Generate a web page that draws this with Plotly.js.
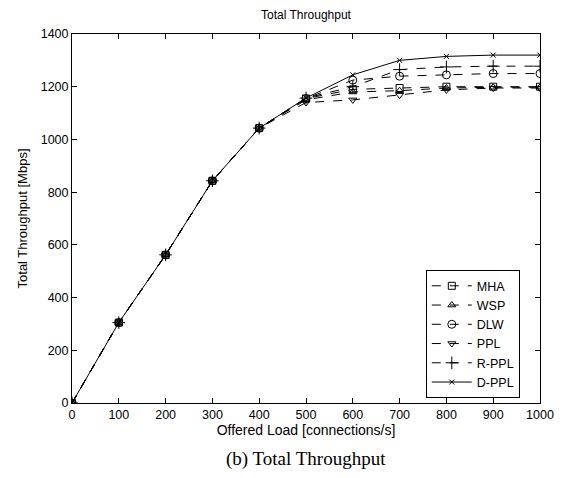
<!DOCTYPE html>
<html>
<head>
<meta charset="utf-8">
<script src="https://cdn.plot.ly/plotly-3.0.1.min.js"></script>
<style>
html,body{margin:0;padding:0;background:#fff;}
#chart{width:563px;height:478px;}
</style>
</head>
<body>
<div id="chart"></div>
<script>
const load = [0, 100, 200, 300, 400, 500, 600, 700, 800, 900, 1000];
const seriesNames = ["MHA", "WSP", "DLW", "PPL", "R-PPL", "D-PPL"];
const MHA   = [0, 305, 562, 843, 1043, 1155, 1190, 1195, 1200, 1200, 1200];
const WSP   = [0, 305, 562, 843, 1043, 1150, 1180, 1185, 1195, 1198, 1198];
const DLW   = [0, 305, 562, 843, 1043, 1155, 1225, 1240, 1245, 1250, 1250];
const PPL   = [0, 305, 562, 843, 1043, 1140, 1150, 1168, 1188, 1195, 1195];
const RPPL  = [0, 305, 562, 843, 1043, 1157, 1200, 1265, 1275, 1278, 1278];
const DPPL  = [0, 305, 562, 843, 1043, 1157, 1245, 1300, 1315, 1320, 1320];
const xTicks = [0, 100, 200, 300, 400, 500, 600, 700, 800, 900, 1000];
const yTicks = [0, 200, 400, 600, 800, 1000, 1200, 1400];

const values = [MHA, WSP, DLW, PPL, RPPL, DPPL];
const symbols = ["square-open", "triangle-up-open", "circle-open", "triangle-down-open", "cross-thin", "x-thin"];
const sizes = [7, 7, 8, 7, 9, 5];
const dashes = ["dash", "dash", "dash", "dash", "dash", "solid"];

const traces = seriesNames.map((n, i) => ({
  x: load, y: values[i], name: n, type: "scatter", mode: "lines+markers",
  line: {color: "#000", width: 1, dash: dashes[i]},
  marker: {symbol: symbols[i], size: sizes[i], color: "#000", line: {color: "#000", width: 1}}
}));

const axisCommon = {
  showgrid: false, zeroline: false, showline: true, linecolor: "#000", linewidth: 1,
  mirror: "ticks", ticks: "inside", ticklen: 5, tickcolor: "#000",
  tickfont: {family: "Liberation Sans, Arial, sans-serif", size: 12.5, color: "#000"}
};

const layout = {
  width: 563, height: 478,
  margin: {l: 72, r: 23, t: 34, b: 75},
  paper_bgcolor: "#fff", plot_bgcolor: "#fff",
  font: {family: "Liberation Sans, Arial, sans-serif", color: "#000", size: 12},
  title: {text: "Total Throughput", font: {size: 12, family: "Liberation Sans, Arial, sans-serif"}, x: 0.5, xref: "paper", y: 0.97, yanchor: "middle"},
  xaxis: Object.assign({}, axisCommon, {
    range: [0, 1000], tickvals: xTicks, ticktext: xTicks.map(String),
    title: {text: "Offered Load [connections/s]", font: {size: 14}, standoff: 4}
  }),
  yaxis: Object.assign({}, axisCommon, {
    range: [0, 1400], tickvals: yTicks, ticktext: yTicks.map(String),
    title: {text: "Total Throughput [Mbps]", font: {size: 13}, standoff: 10}
  }),
  showlegend: true,
  legend: {
    x: 0.756, y: 0.36, xanchor: "left", yanchor: "top",
    bgcolor: "#fff", bordercolor: "#000", borderwidth: 1,
    font: {size: 12.5}, tracegroupgap: 0, itemwidth: 40
  },
  annotations: [{
    text: "(b) Total Throughput", xref: "paper", yref: "paper",
    x: 0.5, y: -0.152, xanchor: "center", yanchor: "middle", showarrow: false,
    font: {family: "Liberation Serif, Times New Roman, serif", size: 19}
  }]
};

Plotly.newPlot("chart", traces, layout, {displayModeBar: false, staticPlot: true});
</script>
</body>
</html>
